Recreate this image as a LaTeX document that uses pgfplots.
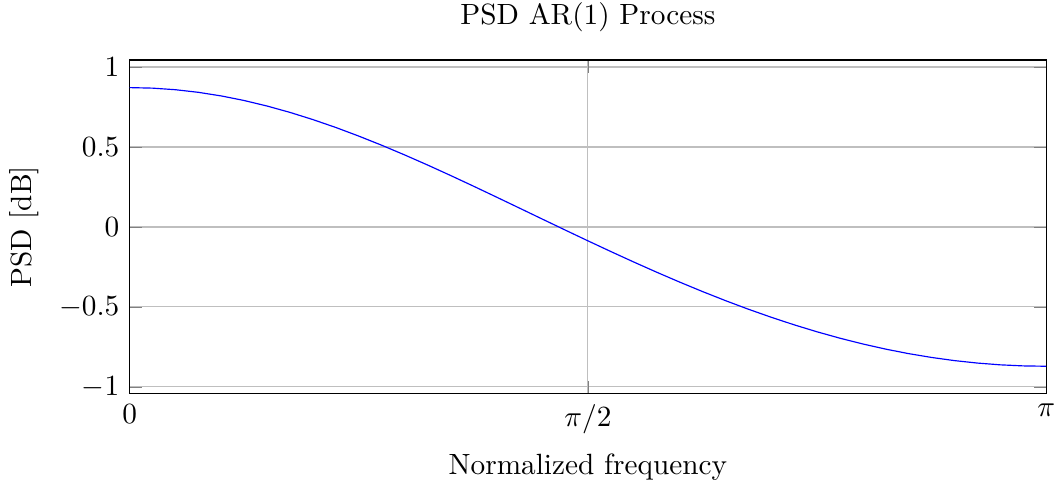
\documentclass[border=0pt]{standalone}
\usepackage{pgfplots}
\pgfplotsset{compat=1.18}
\usepackage{pgfplotstable}

% PSD of the AR(1) process in dB, sampled at k*pi/40
\pgfplotstableread{
w       psd
0.0000  0.8715
0.0785  0.8682
0.1571  0.8583
0.2356  0.8420
0.3142  0.8193
0.3927  0.7906
0.4712  0.7562
0.5498  0.7163
0.6283  0.6714
0.7069  0.6219
0.7854  0.5682
0.8639  0.5110
0.9425  0.4505
1.0210  0.3875
1.0996  0.3222
1.1781  0.2554
1.2566  0.1874
1.3352  0.1187
1.4137  0.0498
1.4923  -0.0189
1.5708  -0.0869
1.6493  -0.1538
1.7279  -0.2194
1.8064  -0.2831
1.8850  -0.3448
1.9635  -0.4041
2.0420  -0.4607
2.1206  -0.5145
2.1991  -0.5650
2.2777  -0.6123
2.3562  -0.6560
2.4347  -0.6960
2.5133  -0.7322
2.5918  -0.7644
2.6704  -0.7926
2.7489  -0.8165
2.8274  -0.8362
2.9060  -0.8516
2.9845  -0.8627
3.0631  -0.8693
3.1416  -0.8715
}\psdtable

\begin{document}
\begin{tikzpicture}
\begin{axis}[
  scale only axis,
  width=313pt, height=114pt,
  xmin=0, xmax=3.1416,
  ymin=-1.044, ymax=1.044,
  xtick={0,1.5708,3.1416},
  xticklabels={$0$,$\pi/2$,$\pi$},
  xticklabel style={inner xsep=0pt},
  ytick={-1,-0.5,0,0.5,1},
  grid=major,
  title={PSD AR(1) Process},
  title style={inner ysep=1pt, yshift=2.3pt},
  xlabel={Normalized frequency},
  ylabel={PSD [dB]},
]
\addplot[blue] table[x=w, y=psd] {\psdtable};
\end{axis}
\end{tikzpicture}
\end{document}
